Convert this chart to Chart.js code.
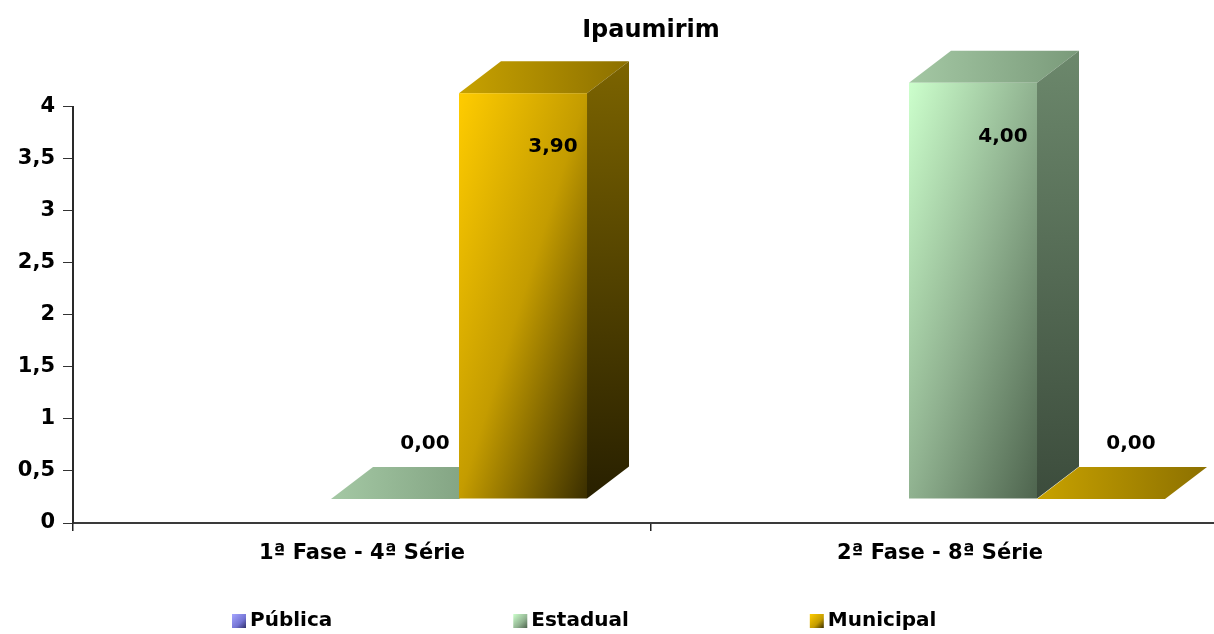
<!DOCTYPE html>
<html lang="pt-BR">
<head>
<meta charset="utf-8">
<title>Ipaumirim</title>
<script src="https://cdn.jsdelivr.net/npm/chart.js@4.4.1/dist/chart.umd.min.js"></script>
<style>
  html, body { margin: 0; padding: 0; background: #fff; overflow: hidden; }
  canvas { display: block; }
</style>
</head>
<body>
<canvas id="grafico" width="1288" height="634"></canvas>
<script>
// Dados do gráfico
var categorias = ['1ª Fase - 4ª Série', '2ª Fase - 8ª Série'];
var series = ['Pública', 'Estadual', 'Municipal'];
var publica = [null, null];
var estadual = [0.00, 4.00];
var municipal = [3.90, 0.00];
var ticksY = [0, 0.5, 1, 1.5, 2, 2.5, 3, 3.5, 4];

// Cores de cada série (frente, lado e topo das barras 3D)
var cores = {
    'Pública':   { claro: '#a6a6ff', medio: '#7474d4', escuro: '#30306a', lado: ['#50509a', '#222244'], topo: ['#8a8ae0', '#6060a8'] },
    'Estadual':  { claro: '#ccffcc', medio: '#90b290', escuro: '#4e644e', lado: ['#6c886c', '#3c4c3c'], topo: ['#a4c8a4', '#7a9a7a'] },
    'Municipal': { claro: '#ffcc00', medio: '#c49c00', escuro: '#3a2e00', lado: ['#7c6400', '#282000'], topo: ['#c8a200', '#8c7000'] }
};

// Profundidade da perspectiva e deslocamento da face frontal
var DX = 42, DY = -32, DESLOC_X = 33, DESLOC_Y = -24;
var FONTE = '"DejaVu Sans", sans-serif';

function virgula(v) {
    return String(v).replace('.', ',');
}

function poligono(ctx, pts, fill) {
    ctx.beginPath();
    ctx.moveTo(pts[0][0], pts[0][1]);
    for (var i = 1; i < pts.length; i++) ctx.lineTo(pts[i][0], pts[i][1]);
    ctx.closePath();
    ctx.fillStyle = fill;
    ctx.fill();
}

// Degradê diagonal: canto superior esquerdo claro, inferior direito escuro
function gradFrente(ctx, l, t, w, h, c) {
    var k = 2 * w * h / (w * w + h * h);
    var g = ctx.createLinearGradient(l, t, l + k * h, t + k * w);
    g.addColorStop(0, c.claro);
    g.addColorStop(0.5, c.medio);
    g.addColorStop(1, c.escuro);
    return g;
}

var barras3d = {
    id: 'barras3d',
    afterDatasetsDraw: function(chart) {
        var ctx = chart.ctx;
        var rotulos = [];
        ctx.save();
        chart.data.labels.forEach(function(_, i) {
            chart.data.datasets.forEach(function(ds, d) {
                var v = ds.data[i];
                if (v === null || v === undefined) return;
                var p = chart.getDatasetMeta(d).data[i].getProps(['x', 'y', 'base', 'width'], true);
                var l = p.x - p.width / 2 + DESLOC_X, r = l + p.width;
                var t = p.y + DESLOC_Y, b = p.base + DESLOC_Y;
                var c = cores[ds.label];

                // topo
                var gt = ctx.createLinearGradient(l, 0, r + DX, 0);
                gt.addColorStop(0, c.topo[0]);
                gt.addColorStop(1, c.topo[1]);
                poligono(ctx, [[l, t], [l + DX, t + DY], [r + DX, t + DY], [r, t]], gt);

                if (b - t > 0.5) {
                    // lado
                    var gl = ctx.createLinearGradient(0, t + DY, 0, b);
                    gl.addColorStop(0, c.lado[0]);
                    gl.addColorStop(1, c.lado[1]);
                    poligono(ctx, [[r, t], [r + DX, t + DY], [r + DX, b + DY], [r, b]], gl);
                    // frente
                    ctx.fillStyle = gradFrente(ctx, l, t, r - l, b - t, c);
                    ctx.fillRect(l, t, r - l, b - t);
                }

                var y = (t - 55 > chart.chartArea.top) ? t - 55 : t + 54;
                rotulos.push({ txt: v.toFixed(2).replace('.', ','), x: (l + r) / 2 + 30, y: y });
            });
        });

        // rótulos de valor
        ctx.font = 'bold 20px ' + FONTE;
        ctx.fillStyle = '#000';
        ctx.textAlign = 'center';
        ctx.textBaseline = 'middle';
        rotulos.forEach(function(o) { ctx.fillText(o.txt, o.x, o.y); });
        ctx.restore();
    }
};

// Legenda desenhada à mão, com quadradinhos em degradê
var legenda = {
    id: 'legendaFundo',
    afterDraw: function(chart) {
        var ctx = chart.ctx;
        var x = 232, y = 621;
        ctx.save();
        ctx.font = 'bold 20px ' + FONTE;
        ctx.textAlign = 'left';
        ctx.textBaseline = 'middle';
        chart.data.datasets.forEach(function(ds) {
            var c = cores[ds.label];
            var g = ctx.createLinearGradient(x, y - 7, x + 14, y + 7);
            g.addColorStop(0, c.claro);
            g.addColorStop(0.6, c.medio);
            g.addColorStop(1, c.escuro);
            ctx.fillStyle = g;
            ctx.fillRect(x, y - 7, 14, 14);
            ctx.fillStyle = '#000';
            ctx.fillText(ds.label, x + 18, y);
            x += 18 + ctx.measureText(ds.label).width + 181;
        });
        ctx.restore();
    }
};

document.addEventListener('DOMContentLoaded', function() {
    var valores = [publica, estadual, municipal];
    var data = {
        labels: categorias,
        datasets: series.map(function(nome, k) {
            return {
                label: nome,
                data: valores[k],
                backgroundColor: 'rgba(0,0,0,0)', // as barras são pintadas pelo plugin 3D
                borderWidth: 0,
                barPercentage: 1,
                categoryPercentage: 0.6644
            };
        })
    };

    var config = {
        type: 'bar',
        data: data,
        options: {
            responsive: false,
            animation: false,
            devicePixelRatio: 1,
            layout: { padding: { left: 0, right: 59, top: 0, bottom: 68 } },
            plugins: {
                legend: { display: false },
                tooltip: { enabled: false },
                title: {
                    display: true,
                    fullSize: false,
                    text: 'Ipaumirim',
                    color: '#000',
                    font: { family: FONTE, size: 24, weight: 'bold' },
                    padding: { top: 16, bottom: 62 }
                }
            },
            scales: {
                x: {
                    offset: true,
                    border: { display: true, color: '#3a3a3a', width: 2 },
                    grid: { display: true, offset: true, drawOnChartArea: false, drawTicks: true, tickLength: 8, color: '#222', lineWidth: 1.5 },
                    ticks: { color: '#000', padding: 10, maxRotation: 0, font: { family: FONTE, size: 21, weight: 'bold' } },
                    afterFit: function(s) { s.height = 43; }
                },
                y: {
                    min: ticksY[0],
                    max: ticksY[ticksY.length - 1],
                    border: { display: true, color: '#2a2a2a', width: 2 },
                    grid: { display: true, drawOnChartArea: false, drawTicks: true, tickLength: 10, color: '#333', lineWidth: 1 },
                    ticks: {
                        stepSize: ticksY[1] - ticksY[0],
                        color: '#000',
                        padding: 8,
                        font: { family: FONTE, size: 21, weight: 'bold' },
                        callback: function(v) { return virgula(v); }
                    },
                    afterFit: function(s) { s.width = 73; }
                }
            }
        },
        plugins: [barras3d, legenda]
    };

    var ctx = document.getElementById('grafico').getContext('2d');
    new Chart(ctx, config);
});
</script>
</body>
</html>
